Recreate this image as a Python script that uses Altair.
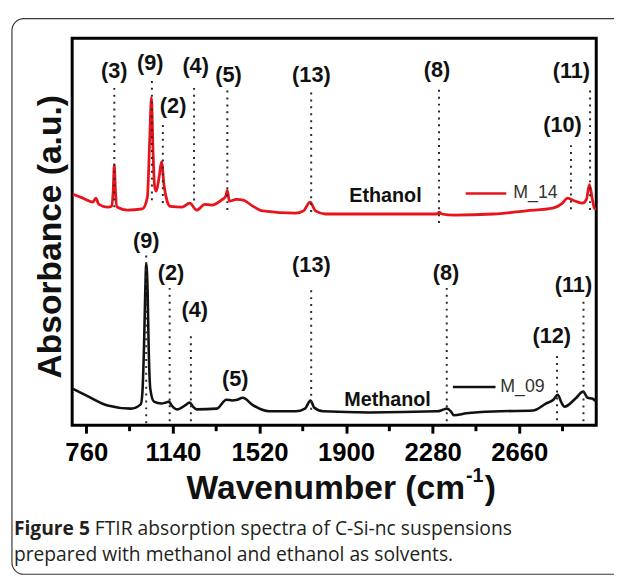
import altair as alt
import pandas as pd

# ---------------- data ----------------
eth_wn = [702, 745, 789, 802, 815, 854, 872, 878, 883, 888, 895, 941, 1006, 1028, 1038,
          1046, 1053, 1060, 1067, 1080, 1090, 1102, 1115, 1128, 1180, 1214, 1245, 1280,
          1310, 1353, 1372, 1379, 1388, 1418, 1449, 1484, 1535, 1679, 1713, 1742, 1766,
          1809, 2113, 2299, 2308, 2320, 2373, 2547, 2690, 2807, 2850, 2872, 2907, 2938,
          2955, 2968, 2981, 2990, 2998]
eth_abs = [59.7, 58.7, 57.7, 58.7, 57.1, 56.4, 56.6, 60.5, 67.3, 60.5, 56.4, 55.6, 55.9,
           58.9, 73.2, 84.7, 70.7, 61.7, 60.5, 64.3, 68.1, 61.7, 57.9, 56.6, 56.4, 57.4,
           55.6, 57.1, 56.9, 58.2, 59.2, 60.7, 57.9, 58.4, 58.2, 56.9, 55.4, 54.8, 55.4,
           57.7, 55.4, 54.6, 54.6, 54.6, 55.1, 54.6, 54.3, 54.6, 55.4, 56.1, 57.4, 58.7,
           57.9, 57.4, 58.4, 62.2, 58.4, 56.1, 55.9]

meth_wn = [702, 770, 854, 955, 999, 1006, 1013, 1019, 1023, 1029, 1034, 1041, 1057, 1090,
           1110, 1123, 1135, 1158, 1200, 1214, 1228, 1245, 1332, 1375, 1400, 1418, 1447,
           1491, 1563, 1679, 1720, 1744, 1760, 1800, 2000, 2300, 2330, 2343, 2360, 2373,
           2429, 2577, 2720, 2777, 2810, 2829, 2845, 2859, 2907, 2941, 2960, 2980, 2998]
meth_abs = [9.4, 7.4, 5.1, 4.3, 5.4, 8.2, 19.6, 34.9, 41.8, 34.9, 19.6, 9.4, 6.1, 5.6,
            5.9, 6.1, 5.1, 4.1, 5.4, 5.9, 4.8, 4.1, 4.3, 6.6, 6.4, 6.5, 7.1, 5.2, 3.6,
            3.6, 4.3, 6.4, 4.6, 3.6, 3.3, 3.6, 4.1, 4.3, 3.6, 2.6, 3.1, 3.6, 3.8, 5.6,
            6.6, 7.9, 5.9, 4.8, 6.9, 8.7, 7.1, 6.9, 6.1]

# dotted assignment lines: band, wavenumber, top, bottom
rule_band = ["(3)", "(9)", "(2)", "(4)", "(5)", "(13)", "(8)", "(10)", "(11)",
             "(9)", "(2)", "(4)", "(13)", "(8)", "(12)", "(11)"]
rule_wn = [883, 1048, 1096, 1233, 1379, 1747, 2308, 2887, 2971,
           1023, 1126, 1219, 1747, 2342, 2826, 2942]
rule_top = [87.2, 89.0, 77.6, 87.2, 86.5, 86.0, 86.7, 72.4, 86.5,
            43.9, 35.5, 23.0, 34.9, 35.5, 17.9, 31.9]
rule_bot = [55.9, 57.1, 56.6, 57.1, 54.8, 54.1, 52.3, 54.8, 54.6,
            0.5, 0.5, 0.5, 3.0, 0.5, 0.5, 0.5]

# band labels
lab_text = ["(3)", "(9)", "(2)", "(4)", "(5)", "(13)", "(8)", "(10)", "(11)",
            "(9)", "(2)", "(4)", "(5)", "(13)", "(8)", "(12)", "(11)"]
lab_wn = [883, 1041, 1141, 1240, 1384, 1748, 2299, 2850, 2889,
          1023, 1132, 1236, 1414, 1748, 2339, 2803, 2898]
lab_y = [91.6, 93.6, 82.4, 92.9, 90.6, 90.6, 91.8, 77.6, 91.6,
         47.7, 39.3, 29.8, 12.0, 41.3, 39.3, 23.0, 36.2]

# in-plot legends
leg_name = ["M_14", "M_09"]
leg_color = ["#e8141c", "#111111"]
leg_x1 = [2425, 2369]
leg_x2 = [2603, 2556]
leg_y = [59.9, 9.9]
leg_text_x = [2634, 2577]

solvent_name = ["Ethanol", "Methanol"]
solvent_wn = [2073, 2082]
solvent_y = [59.2, 6.4]

major_ticks = [760, 1140, 1520, 1900, 2280, 2660]
minor_ticks = [950, 1330, 1710, 2090, 2470, 2850]

caption_bold = "Figure 5"
caption_line1 = "FTIR absorption spectra of C-Si-nc suspensions"
caption_line2 = "prepared with methanol and ethanol as solvents."

# ---------------- chart ----------------
W, H = 531, 392
XDOM = [698, 2998]
BOLD = "Liberation Sans"
CAPFONT = "Open Sans"

xs = alt.Scale(domain=XDOM, nice=False, zero=False)
ys = alt.Scale(domain=[0, 100], nice=False, zero=False)

one = pd.DataFrame({"a": [0]})

border = alt.Chart(one).mark_rect(
    cornerRadius=12, fill="white", fillOpacity=0, stroke="#3a3a3a", strokeWidth=1.2
).encode(x=alt.value(-61), x2=alt.value(640), y=alt.value(-20), y2=alt.value(543))

xaxis = alt.Axis(
    values=major_ticks, format="d", tickSize=8, tickWidth=3, tickColor="black", domain=False,
    grid=False, labelFont=BOLD, labelFontSize=26, labelFontWeight="bold",
    labelColor="black", labelPadding=7, labelFlush=False, title=None)

eth_line = alt.Chart(pd.DataFrame({"wn": eth_wn, "abs": eth_abs})).mark_line(
    strokeWidth=2.8, clip=True, interpolate="monotone", color="#e8141c"
).encode(x=alt.X("wn:Q", scale=xs, axis=xaxis), y=alt.Y("abs:Q", scale=ys, axis=None))

meth_line = alt.Chart(pd.DataFrame({"wn": meth_wn, "abs": meth_abs})).mark_line(
    strokeWidth=2.6, clip=True, interpolate="monotone", color="#111111"
).encode(x=alt.X("wn:Q", scale=xs), y=alt.Y("abs:Q", scale=ys))

minor = alt.Chart(pd.DataFrame({"wn": minor_ticks})).mark_rule(
    color="black", strokeWidth=3
).encode(x=alt.X("wn:Q", scale=xs), y=alt.value(H), y2=alt.value(H + 6))

rules_df = pd.DataFrame({"band": rule_band, "wn": rule_wn, "top": rule_top, "bot": rule_bot})
rules = alt.Chart(rules_df).mark_rule(
    color="#2a2a2a", strokeWidth=2, strokeDash=[2, 5]
).encode(x=alt.X("wn:Q", scale=xs), y=alt.Y("top:Q", scale=ys), y2="bot:Q")

labs_df = pd.DataFrame({"t": lab_text, "wn": lab_wn, "y": lab_y})
labs = alt.Chart(labs_df).mark_text(
    font=BOLD, fontSize=22, fontWeight="bold", color="#111", baseline="middle", align="center"
).encode(x=alt.X("wn:Q", scale=xs), y=alt.Y("y:Q", scale=ys), text="t:N")

leg_layers = []
for i in range(len(leg_name)):
    d = pd.DataFrame({"x1": [leg_x1[i]], "x2": [leg_x2[i]], "y": [leg_y[i]],
                      "tx": [leg_text_x[i]], "name": [leg_name[i]]})
    leg_layers.append(alt.Chart(d).mark_rule(strokeWidth=2.6, color=leg_color[i]).encode(
        x=alt.X("x1:Q", scale=xs), x2="x2:Q", y=alt.Y("y:Q", scale=ys)))
    leg_layers.append(alt.Chart(d).mark_text(
        font=BOLD, fontSize=18, color="#333", align="left", baseline="middle"
    ).encode(x=alt.X("tx:Q", scale=xs), y=alt.Y("y:Q", scale=ys), text="name:N"))

solv_df = pd.DataFrame({"n": solvent_name, "wn": solvent_wn, "y": solvent_y})
solv = alt.Chart(solv_df).mark_text(
    font=BOLD, fontSize=20, fontWeight="bold", color="#111", align="center", baseline="middle"
).encode(x=alt.X("wn:Q", scale=xs), y=alt.Y("y:Q", scale=ys), text="n:N")


def txt(s, x, y, size, weight="bold", align="left", font=BOLD, angle=0, baseline="alphabetic",
        color="#111"):
    return alt.Chart(one).mark_text(
        text=s, font=font, fontSize=size, fontWeight=weight, align=align, angle=angle,
        baseline=baseline, color=color
    ).encode(x=alt.value(x), y=alt.value(y))


ytitle = txt("Absorbance (a.u.)", -21, 201, 34, align="center", angle=270, baseline="middle")
xt1 = txt("Wavenumber (cm", 398, 467, 34, align="right")
xt2 = txt("-1", 399, 450, 20, align="left")
xt3 = txt(")", 418, 467, 34, align="left")

cap1 = txt(caption_bold, -59, 503, 19.5, font=CAPFONT, color="#231f20")
cap2 = txt(caption_line1, 23, 503, 19.5, weight="normal", font=CAPFONT, color="#231f20")
cap3 = txt(caption_line2, -59, 530, 19.5, weight="normal", font=CAPFONT, color="#231f20")

chart = alt.layer(
    eth_line, meth_line, border, rules, minor, labs, *leg_layers, solv,
    ytitle, xt1, xt2, xt3, cap1, cap2, cap3
).properties(
    width=W, height=H,
    autosize=alt.AutoSizeParams(type="none"),
    padding={"left": 65, "top": 27, "right": 18, "bottom": 150},
    background="white",
).configure_view(stroke="black", strokeWidth=3)

chart.save("out.html", embed_options={"renderer": "svg", "actions": False})
